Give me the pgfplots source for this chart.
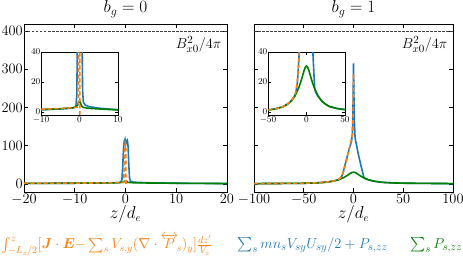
\documentclass[border=0pt]{standalone}
\usepackage{amsmath}
\usepackage{bm}
\usepackage{pgfplots}
\pgfplotsset{compat=1.18}
\definecolor{cblue}{HTML}{1F77B4}
\definecolor{corange}{HTML}{FF7F0E}
\definecolor{cgreen}{RGB}{0,128,0}
\pgfplotsset{
  mainax/.style={scale only axis, height=168pt, ymin=-21, ymax=418,
    axis line style={line width=0.9pt}, tick align=inside, major tick length=4pt,
    tick style={black, line width=0.6pt}, ytick={0,100,200,300,400},
    tick label style={font=\fontsize{13.5}{13.5}\selectfont},
    xticklabel style={inner ysep=2pt},
    yticklabel style={inner xsep=1pt},
    title style={font=\fontsize{18}{18}\selectfont, at={(0.5,1)}, anchor=south, yshift=-3pt},
    xlabel style={font=\fontsize{16}{16}\selectfont, at={(0.5,0)}, anchor=north, yshift=-10pt},
    anchor=south west},
  insax/.style={scale only axis, width=77pt, height=63pt, ymin=-1.5, ymax=40,
    ytick={0,20,40}, axis line style={line width=0.7pt}, tick align=inside,
    major tick length=3pt, tick style={black, line width=0.5pt},
    tick label style={font=\fontsize{9.5}{9.5}\selectfont},
    xticklabel style={inner ysep=1.5pt}, yticklabel style={inner xsep=0.5pt, yshift=0.8pt},
    axis background/.style={fill=white}, anchor=south west},
  bl/.style={cblue, line width=1.6pt},
  gr/.style={cgreen, line width=1.6pt},
  orr/.style={corange, line width=1.6pt, dash pattern=on 4pt off 2.5pt},
}
\pgfplotstableread{
z y
-20 1.5
-15 1.7
-10 2.0
-5 2.5
-2 3.0
-1.2 3.5
-0.9 5
-0.7 12
-0.55 45
-0.4 90
-0.25 112
-0.1 117
0.05 104
0.2 113
0.35 115
0.5 100
0.65 50
0.8 15
1.0 7
1.5 5
2.5 4
5 3
10 2
15 1.5
20 1.2
}\blueA
\pgfplotstableread{
z y
-20 1.8
-15 2.0
-10 2.3
-5 2.8
-2 3.3
-1 3.6
-0.35 3.8
-0.25 40
-0.15 95
-0.05 106
0.05 100
0.1 -3
}\orangeA
\pgfplotstableread{
z y
-20 1.5
-10 2.0
-5 2.6
-2 3.2
-1 3.8
-0.5 5
-0.2 7
0 8
0.2 7
0.5 4.5
1 3.5
2 3.0
5 2.5
10 1.8
20 1.0
}\greenA
\pgfplotstableread{
z y
-100 1.0
-75 1.3
-50 1.8
-40 2.6
-30 4.1
-25 5.6
-20 7.8
-16 10.5
-14 13
-12 19
-10.7 28
-8 55
-5 85
-2 112
-1.2 130
-0.6 180
-0.2 260
0 315
0.3 250
0.8 170
1.5 125
2 115
5 76
7.5 48
9.4 28
10.5 17
11.5 14
13 12.5
15 11
20 7.6
25 5.6
30 4.1
40 2.8
50 2.1
75 1.4
100 1.0
}\blueB
\pgfplotstableread{
z y
-100 1.0
-75 1.3
-50 1.8
-40 2.6
-30 4.1
-25 5.6
-20 7.8
-16 10.7
-14 13.5
-12 20
-10 33
-8 50
-5 85
-2 118
-1 130
-0.6 150
-0.3 200
-0.1 260
0 290
}\orangeB
\pgfplotstableread{
z y
-100 1.0
-75 1.3
-50 1.8
-40 2.5
-30 4
-25 5.5
-20 7.5
-15 11
-10 16.5
-7 21
-5 24.5
-3 28
-1.5 30
0 30.8
1.5 30
3 28
5 24.5
7 21
10 16.5
15 11
20 7.5
25 5.5
30 4
40 2.7
50 2
75 1.4
100 1.0
}\greenB
\begin{document}
\begin{tikzpicture}
\path[use as bounding box] (0,0) rectangle (463pt,258pt);
% left main
\begin{axis}[mainax, at={(24pt,66pt)}, width=203pt, xmin=-20, xmax=20,
  xtick={-20,-10,0,10,20}, title={$b_g = 0$}, xlabel={$z/d_e$}]
\addplot[black!75, line width=0.6pt, dash pattern=on 2.5pt off 1.5pt] coordinates {(-20,400) (20,400)};
\addplot[bl] table {\blueA};
\addplot[gr] table {\greenA};
\addplot[orr] table {\orangeA};
\node[anchor=east, font=\fontsize{15}{15}\selectfont] at (axis cs:19.6,364) {$B_{x0}^2/4\pi$};
\end{axis}
\begin{axis}[insax, at={(41pt,143pt)}, xmin=-10, xmax=10, xtick={-10,0,10}]
\addplot[bl] table {\blueA};
\addplot[gr] table {\greenA};
\addplot[orr] table {\orangeA};
\end{axis}
% right main
\begin{axis}[mainax, at={(254pt,66pt)}, width=199pt, xmin=-100, xmax=100,
  xtick={-100,-50,0,50,100}, yticklabels={}, title={$b_g = 1$}, xlabel={$z/d_e$}]
\addplot[black!75, line width=0.6pt, dash pattern=on 2.5pt off 1.5pt] coordinates {(-100,400) (100,400)};
\addplot[bl] table {\blueB};
\addplot[gr] table {\greenB};
\addplot[orr] table {\orangeB};
\node[anchor=east, font=\fontsize{15}{15}\selectfont] at (axis cs:98,364) {$B_{x0}^2/4\pi$};
\end{axis}
\begin{axis}[insax, at={(268pt,143pt)}, xmin=-50, xmax=50, xtick={-50,0,50}]
\addplot[bl] table {\blueB};
\addplot[gr] table {\greenB};
\addplot[orr] table {\orangeB};
\end{axis}
% legend texts
\node[anchor=west, text=corange, inner sep=0pt, font=\fontsize{14.5}{14.5}\selectfont] at (1pt,13pt)
  {$\int_{-L_z/2}^{z}[\bm{J}\cdot\bm{E}{-}\sum_s V_{s,y}(\nabla\cdot\overleftrightarrow{P}_{\!s})_y]\frac{dz'}{V_z}$};
\node[anchor=west, text=cblue, inner sep=0pt, font=\fontsize{15}{15}\selectfont] at (237pt,13pt)
  {$\sum_s mn_sV_{sy}U_{sy}/2+P_{s,zz}$};
\node[anchor=west, text=cgreen, inner sep=0pt, font=\fontsize{15}{15}\selectfont] at (410pt,13pt)
  {$\sum_s P_{s,zz}$};
\end{tikzpicture}
\end{document}
